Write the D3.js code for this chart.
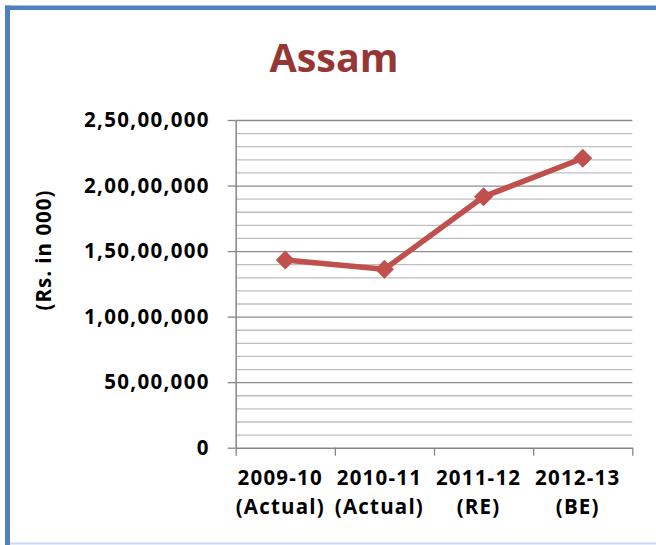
<!DOCTYPE html>
<html>
<head>
<meta charset="utf-8">
<script src="https://cdn.jsdelivr.net/npm/d3@7"></script>
<style>
  html, body { margin: 0; padding: 0; background: #fff; }
  svg { display: block; }
  text { font-family: "Open Sans", "DejaVu Sans", sans-serif; font-weight: 700; }
</style>
</head>
<body>
<svg id="chart" width="656" height="545"></svg>
<script>
const title = "Assam";
const yAxisTitle = "(Rs. in 000)";
const categories = ["2009-10", "2010-11", "2011-12", "2012-13"];
const categorySubs = ["(Actual)", "(Actual)", "(RE)", "(BE)"];
const values = [14320000, 13610000, 19150000, 22080000];
const yMajorTicks = [0, 5000000, 10000000, 15000000, 20000000, 25000000];
const yMinorStep = 1000000;

function indianFormat(n) {
  const s = String(Math.round(n));
  if (s.length <= 3) return s;
  let last3 = s.slice(-3);
  let rest = s.slice(0, -3);
  const parts = [];
  while (rest.length > 2) { parts.unshift(rest.slice(-2)); rest = rest.slice(0, -2); }
  if (rest.length) parts.unshift(rest);
  return parts.join(",") + "," + last3;
}

const svg = d3.select("#chart");
const W = 656, H = 545;

// outer frame
svg.append("line").attr("x1", 10).attr("x2", W).attr("y1", 543.5).attr("y2", 543.5)
  .attr("stroke", "#C6D9F1").attr("stroke-width", 2);
svg.append("line").attr("x1", 7.5).attr("x2", 7.5).attr("y1", 5.5).attr("y2", H)
  .attr("stroke", "#4F81BD").attr("stroke-width", 5);
svg.append("line").attr("x1", 5).attr("x2", W).attr("y1", 7.8).attr("y2", 7.8)
  .attr("stroke", "#4F81BD").attr("stroke-width", 4.5);

const pLeft = 235.7, pRight = 632.3, pTop = 120, pBottom = 447.7;

const x = d3.scaleBand().domain(categories).range([pLeft, pRight]).padding(0);
const xEdge = d3.scaleLinear().domain([0, categories.length]).range([pLeft, pRight]);
const y = d3.scaleLinear().domain([0, 25000000]).range([pBottom, pTop]);

// minor gridlines
const minorVals = d3.range(0, 25000000 + 1, yMinorStep).filter(v => !yMajorTicks.includes(v));
const gMinor = svg.append("g").attr("transform", `translate(${pLeft},0)`)
  .call(d3.axisLeft(y).tickValues(minorVals).tickSize(-(pRight - pLeft)).tickFormat(""));
gMinor.select(".domain").remove();
gMinor.selectAll("line").attr("stroke", "#BFBFBF").attr("stroke-width", 1.3);

// major gridlines
const gMajor = svg.append("g").attr("transform", `translate(${pLeft},0)`)
  .call(d3.axisLeft(y).tickValues(yMajorTicks.filter(v => v > 0)).tickSize(-(pRight - pLeft)).tickFormat(""));
gMajor.select(".domain").remove();
gMajor.selectAll("line").attr("stroke", "#8C8C8C").attr("stroke-width", 1.3);

// y axis with labels
const gY = svg.append("g").attr("transform", `translate(${pLeft},0)`)
  .call(d3.axisLeft(y).tickValues(yMajorTicks).tickSize(8).tickSizeOuter(0).tickPadding(18).tickFormat(indianFormat));
gY.select(".domain").attr("stroke", "#868686").attr("stroke-width", 1.5);
gY.selectAll(".tick line").attr("stroke", "#868686").attr("stroke-width", 1.3);
gY.selectAll(".tick text").attr("fill", "#000").attr("font-size", 20.5)
  .style("font-family", '"Open Sans", sans-serif').style("font-weight", 700)
  .style("letter-spacing", "1.3px");

// x axis
const gX = svg.append("g").attr("transform", `translate(0,${pBottom})`)
  .call(d3.axisBottom(xEdge).tickValues(d3.range(0, categories.length + 1)).tickSize(8).tickSizeOuter(0).tickFormat(""));
gX.select(".domain").attr("stroke", "#868686").attr("stroke-width", 1.5);
gX.selectAll(".tick line").attr("stroke", "#868686").attr("stroke-width", 1.3);

const xl = svg.append("g").selectAll("text").data(categories).join("text")
  .attr("x", d => x(d) + x.bandwidth() / 2 - 5)
  .attr("text-anchor", "middle")
  .attr("font-size", 20.5)
  .style("letter-spacing", "1.2px")
  .attr("fill", "#000");
xl.append("tspan").attr("x", d => x(d) + x.bandwidth() / 2 - 5).attr("y", 485).text(d => d);
xl.append("tspan").attr("x", (d, i) => x(d) + x.bandwidth() / 2 - 5).attr("y", 514).text((d, i) => categorySubs[i]);

// y axis title
svg.append("text")
  .attr("transform", "translate(51,250) rotate(-90)")
  .attr("text-anchor", "middle")
  .attr("font-size", 20.5)
  .style("letter-spacing", "1px")
  .attr("fill", "#000")
  .text(yAxisTitle);

// title
svg.append("text")
  .attr("x", 334).attr("y", 71.7)
  .attr("text-anchor", "middle")
  .attr("font-size", 39.5)
  .attr("fill", "#953735")
  .text(title);

// line
const line = d3.line().x((d, i) => x(categories[i]) + x.bandwidth() / 2).y(d => y(d));
svg.append("path").datum(values).attr("d", line)
  .attr("fill", "none").attr("stroke", "#C0504D").attr("stroke-width", 5.5)
  .attr("stroke-linejoin", "round");

// markers
svg.append("g").selectAll("path").data(values).join("path")
  .attr("transform", (d, i) => `translate(${x(categories[i]) + x.bandwidth() / 2},${y(d)})`)
  .attr("d", "M0,-9.5L9.5,0L0,9.5L-9.5,0Z")
  .attr("fill", "#C0504D");
</script>
</body>
</html>
